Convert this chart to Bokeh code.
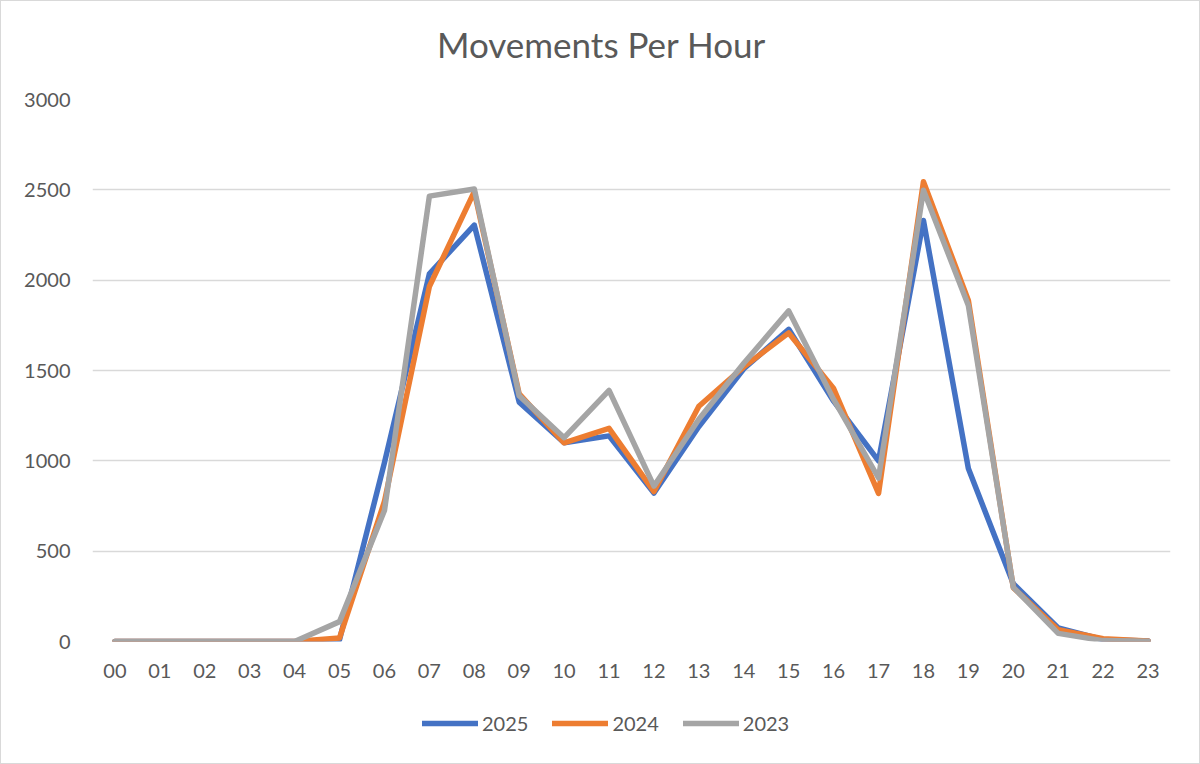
from bokeh.plotting import figure
from bokeh.layouts import column
from bokeh.models import FactorRange, Range1d, FixedTicker, Legend, LegendItem, Label
from bokeh.embed import file_html
from bokeh.resources import INLINE

hours = [f"{h:02d}" for h in range(24)]
series_names = ["2025", "2024", "2023"]
v2025 = [0, 0, 0, 0, 0, 10, 990, 2035, 2305, 1325, 1100, 1138, 822, 1190, 1510, 1728, 1330, 1000, 2330, 957, 320, 75, 10, 3]
v2024 = [0, 0, 0, 0, 0, 20, 775, 1965, 2490, 1370, 1100, 1180, 830, 1302, 1520, 1708, 1400, 820, 2545, 1888, 298, 65, 15, 3]
v2023 = [0, 0, 0, 0, 0, 110, 725, 2465, 2505, 1360, 1128, 1390, 860, 1230, 1540, 1830, 1340, 905, 2498, 1860, 300, 45, 5, 2]
colors = ["#4472C4", "#ED7D31", "#A5A5A5"]
y_ticks = [0, 500, 1000, 1500, 2000, 2500, 3000]
title_text = "Movements Per Hour"

FONT = "Lato"
TXT = "#595959"
W = 1198
FW, FH = 1078, 542
LW = 5.5
series = [v2025, v2024, v2023]


def bare(fig):
    fig.outline_line_color = None
    fig.background_fill_color = "white"
    fig.border_fill_color = "white"
    fig.xgrid.grid_line_color = None
    fig.ygrid.grid_line_color = None
    return fig


# ---- title strip (frame is aligned with the main chart's frame by the column) ----
pt = bare(figure(width=W, height=83, x_range=Range1d(0, 1), y_range=Range1d(0, 1),
                 output_backend="svg", toolbar_location=None,
                 x_axis_location=None, y_axis_location=None,
                 min_border_left=0, min_border_right=0, min_border_top=0, min_border_bottom=0))
pt.add_layout(Label(x=509, y=41, x_units="screen", y_units="screen", text=title_text,
                    text_align="center", text_baseline="middle", text_font=FONT,
                    text_font_size="35px", text_color=TXT))

# ---- main chart ----
p = figure(frame_width=FW, frame_height=FH, x_range=FactorRange(*hours), y_range=Range1d(0, 3000),
           output_backend="svg", toolbar_location=None,
           min_border_left=91, min_border_right=29, min_border_top=15, min_border_bottom=50)
p.outline_line_color = None
p.background_fill_color = "white"
p.border_fill_color = "white"
p.xgrid.grid_line_color = None
p.ygrid.grid_line_color = "#D9D9D9"
p.ygrid.grid_line_width = 1.5

p.yaxis.ticker = FixedTicker(ticks=y_ticks)
for ax in (p.xaxis, p.yaxis):
    ax.axis_line_color = None
    ax.major_tick_line_color = None
    ax.minor_tick_line_color = None
    ax.major_tick_out = 0
    ax.major_tick_in = 0
    ax.major_label_text_font = FONT
    ax.major_label_text_font_size = "20px"
    ax.major_label_text_color = TXT
p.yaxis.major_label_standoff = 22
p.xaxis.major_label_standoff = 22

for vals, c in zip(series, colors):
    p.line(hours, vals, line_color=c, line_width=LW, line_join="round", line_cap="round")

# ---- legend strip (series drawn out of view; only the legend shows) ----
pl = bare(figure(width=W, height=72, x_range=FactorRange(*hours), y_range=Range1d(10000, 10001),
                 output_backend="svg", toolbar_location=None,
                 x_axis_location=None, y_axis_location=None,
                 min_border_left=0, min_border_right=0, min_border_top=0, min_border_bottom=0))
items = []
for name, vals, c in zip(series_names, series, colors):
    r = pl.line(hours, vals, line_color=c, line_width=LW, line_cap="round")
    items.append(LegendItem(label=name, renderers=[r]))
legend = Legend(items=items, orientation="horizontal", location=(330, 28),
                label_text_font=FONT, label_text_font_size="20px", label_text_color=TXT,
                glyph_width=56, glyph_height=20, label_height=20, spacing=24, label_standoff=4,
                border_line_color=None, background_fill_alpha=0, margin=0, padding=0)
pl.add_layout(legend, "center")

layout = column(pt, p, pl, spacing=0)
layout.styles = {"border": "1px solid #D9D9D9"}

open("out.html", "w").write(file_html(layout, INLINE))
